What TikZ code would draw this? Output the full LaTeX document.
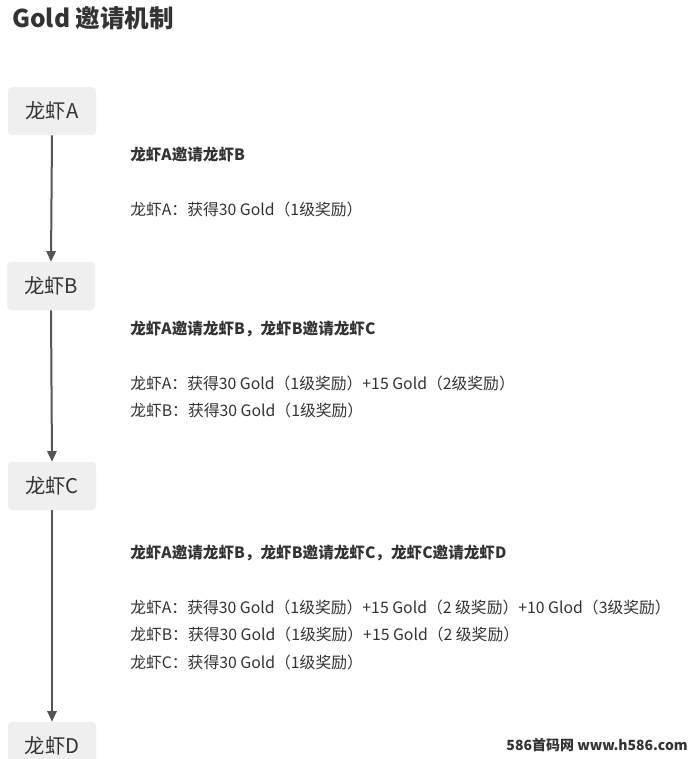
\documentclass[tikz,border=0pt]{standalone}
\usepackage{fontspec}
\setmainfont{Noto Sans CJK SC}
\usetikzlibrary{arrows.meta}
\definecolor{txt}{HTML}{333333}
\definecolor{boxfill}{HTML}{EFEFEF}
\definecolor{arr}{HTML}{555555}
\tikzset{
  shrimp/.style={fill=boxfill, rounded corners=3pt, minimum width=88*0.75pt, minimum height=48*0.75pt, inner sep=0pt, text=txt, font=\fontsize{15.2}{18}\selectfont},
  flow/.style={draw=arr, line width=1.5pt, -{Triangle[width=7pt,length=8pt]}},
  head/.style={anchor=base west, inner sep=0pt, text=txt, font=\fontsize{11.7}{14}\selectfont\bfseries},
  body/.style={anchor=base west, inner sep=0pt, text=txt, font=\fontsize{11.85}{14}\selectfont},
}
\begin{document}
\begin{tikzpicture}[x=0.75pt,y=-0.75pt]
\useasboundingbox (0,0) rectangle (690,759);
\clip (0,0) rectangle (690,759);
\fill[white] (0,0) rectangle (690,759);
\node[anchor=base west, inner sep=0pt, text=txt, font=\fontsize{18.4}{22}\selectfont\bfseries] (title) at (12,28) {Gold 邀请机制};

\node[shrimp] (A) at (52,111) {龙虾A};
\node[shrimp] (B) at (51,286) {龙虾B};
\node[shrimp] (C) at (52,486) {龙虾C};
\node[shrimp] (D) at (52,746) {龙虾D};

\draw[flow] (A.south) -- (B.north);
\draw[flow] (B.south) -- (C.north);
\draw[flow] (C.south) -- (D.north);

\node[head] (h1) at (130,161) {龙虾A邀请龙虾B};
\node[body] (l11) at (130,215) {龙虾A：获得30 Gold（1级奖励）};

\node[head] (h2) at (130,334) {龙虾A邀请龙虾B，龙虾B邀请龙虾C};
\node[body] (l21) at (130,389) {龙虾A：获得30 Gold（1级奖励）+15 Gold（2级奖励）};
\node[body] (l22) at (130,416) {龙虾B：获得30 Gold（1级奖励）};

\node[head] (h3) at (130,558) {龙虾A邀请龙虾B，龙虾B邀请龙虾C，龙虾C邀请龙虾D};
\node[body] (l31) at (130,613) {龙虾A：获得30 Gold（1级奖励）+15 Gold（2 级奖励）+10 Glod（3级奖励）};
\node[body] (l32) at (130,640) {龙虾B：获得30 Gold（1级奖励）+15 Gold（2 级奖励）};
\node[body] (l33) at (130,668) {龙虾C：获得30 Gold（1级奖励）};

\node[anchor=base east, inner sep=0pt, text=txt, font=\fontsize{10.5}{12}\selectfont\bfseries] (wm) at (688,750) {586首码网 www.h586.com};
\end{tikzpicture}
\end{document}
